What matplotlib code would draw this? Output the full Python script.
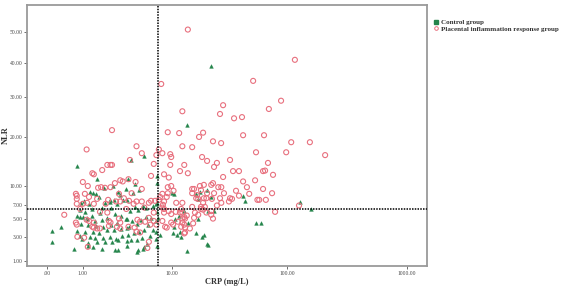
import numpy as np
import matplotlib
matplotlib.use("Agg")
import matplotlib.pyplot as plt
from matplotlib.lines import Line2D

# ---------------- data ----------------
x_ticks = [0, 1, 10, 100, 1000]
x_tick_labels = [".00", "1.00", "10.00", "100.00", "1000.00"]
y_ticks = [1, 3, 5, 7, 10, 20, 30, 40, 50]
y_tick_labels = ["1.00", "3.00", "5.00", "7.00", "10.00", "20.00", "30.00", "40.00", "50.00"]

crp_cutoff = 7.46
nlr_cutoff = 6.45

control_crp = [
    0.79, 1.62, 1.43, 2.0, 2.57, 2.93, 3.08, 3.58, 1.73, 2.37,
    0.93, 1.05, 1.25, 2.06, 2.85, 3.32, 2.44, 1.89, 1.39, 0.895,
    1.08, 1.78, 1.39, 0.895, 1.17, 1.53, 1.89, 2.18, 2.71, 3.16,
    3.58, 2.85, 2.44, 1.95, 1.58, 1.21, 0.93, 0.79, 1.08, 1.43,
    1.73, 2.18, 2.64, 3.16, 3.67, 3.24, 2.78, 2.37, 1.95, 1.53,
    1.3, 0.97, 0.895, 1.21, 1.62, 2.06, 2.5, 2.93, 3.67, 0.107,
    0.315, 0.107, 0.69, 1.21, 1.43, 1.89, 2.93, 3.67, 5.47, 3.76,
    4.24, 4.88, 7.3, 7.3, 10.0, 10.5, 3.67, 4.44, 4.77, 5.35,
    5.72, 6.69, 7.3, 7.3, 3.94, 3.67, 4.14, 3.85, 4.65, 5.11,
    5.72, 6.4, 7.14, 7.46, 5.98, 5.47, 4.88, 4.34, 3.76, 6.69,
    7.14, 7.79, 6.26, 5.22, 4.65, 4.04, 5.47, 4.77, 7.3, 5.85,
    10.5, 11.2, 11.9, 10.7, 11.7, 12.9, 16.5, 17.9, 20.7, 18.7,
    19.5, 16.5, 13.75, 22.4, 42.3, 43.9, 128, 158, 54.5, 60.1,
    21.1, 23.8, 13.75, 22.4, 14.0, 12.15, 20.7, 21.1, 17.2, 4.04,
    4.44, 2.71, 4.65, 5.35, 7.14, 0.79, 1.0, 1.17, 1.3, 1.58,
    2.64, 2.37, 7.14, 17.2, 10.3,
]
control_nlr = [
    13.7, 11.25, 8.83, 9.66, 10.0, 8.99, 8.5, 9.5, 8.2, 7.72,
    7.27, 7.57, 7.12, 7.27, 7.12, 7.72, 6.54, 6.54, 6.4, 6.25,
    5.98, 5.84, 5.44, 5.31, 5.05, 4.8, 4.92, 5.18, 5.7, 5.44,
    5.05, 4.55, 4.3, 4.07, 4.19, 4.3, 4.42, 3.61, 3.5, 3.5,
    3.4, 3.72, 3.72, 3.83, 3.95, 3.08, 2.78, 2.98, 2.87, 2.87,
    2.98, 2.78, 3.08, 2.39, 2.48, 2.48, 2.48, 2.68, 2.58, 3.61,
    4.07, 2.48, 1.86, 2.12, 2.03, 1.86, 1.78, 2.12, 15.7, 11.25,
    8.83, 9.33, 11.8, 10.5, 8.83, 8.67, 7.72, 6.68, 6.25, 6.83,
    6.54, 6.83, 7.27, 5.98, 6.1, 5.05, 4.8, 4.07, 4.42, 4.92,
    5.31, 5.18, 4.8, 5.18, 4.3, 3.72, 3.5, 3.4, 3.19, 3.72,
    3.5, 3.19, 3.08, 2.87, 2.68, 2.68, 2.03, 1.78, 2.12, 2.3,
    4.07, 3.19, 3.5, 5.05, 5.44, 6.1, 8.67, 8.99, 9.33, 2.98,
    3.19, 3.4, 1.70, 8.2, 8.35, 7.57, 7.42, 6.4, 4.55, 4.55,
    6.1, 6.1, 22.7, 39.0, 4.55, 2.98, 2.3, 2.2, 7.87, 14.9,
    10.3, 1.78, 1.65, 1.86, 2.78, 5.44, 5.31, 5.18, 8.99, 8.67,
    7.72, 7.42, 7.12, 5.05, 3.4,
]

placental_crp = [
    14.0, 8.0, 12.5, 2.5, 9.2, 11.7, 12.5, 1.15, 4.6, 5.2,
    7.6, 8.2, 7.2, 9.7, 9.9, 3.94, 6.8, 9.7, 2.2, 2.4,
    2.5, 13.0, 1.9, 1.4, 1.47, 11.9, 14.0, 6.4, 8.5, 3.8,
    3.1, 3.3, 2.7, 1.0, 1.2, 4.5, 1.68, 1.84, 2.06, 2.4,
    9.4, 9.9, 9.2, 5.2, 4.1, 0.75, 0.78, 0.78, 1.08, 1.25,
    1.63, 2.25, 3.0, 3.1, 8.2, 9.2, 7.8, 9.0, 10.4, 11.0,
    12.5, 1.0, 1.17, 1.47, 0.78, 2.1, 2.78, 4.3, 4.6, 5.2,
    6.1, 6.4, 7.0, 7.6, 8.5, 8.3, 3.4, 3.85, 8.2, 8.5,
    8.5, 9.4, 9.9, 0.4, 0.75, 0.78, 1.15, 1.25, 1.4, 1.47,
    1.63, 1.47, 1.78, 2.3, 2.4, 2.3, 3.0, 3.1, 2.85, 3.1,
    3.8, 4.4, 4.7, 5.0, 5.6, 6.1, 6.3, 6.8, 7.2, 8.2,
    8.7, 9.0, 9.9, 10.3, 11.4, 12.5, 13.2, 13.0, 13.2, 15.6,
    14.6, 4.6, 5.0, 5.9, 1.2, 0.8, 1.05, 6.1, 0.9, 1.78,
    2.2, 3.6, 5.5, 6.8, 10.9, 11.9, 15.3, 19.1, 17.6, 23.3,
    27.4, 28.5, 26.8, 35.4, 41.4, 42.3, 51.5, 63.7, 70.0, 88.7,
    116, 108, 155, 208, 98, 54.5, 32.7, 68.8, 25.2, 20.7,
    18.7, 23.8, 34.7, 39.0, 62.5, 65.0, 75.9, 28.5, 53.5, 62.5,
    74.5, 45.6, 47.7, 58.0, 66.0, 36.8, 39.0, 32.7, 27.5, 25.9,
    29.0, 26.8, 27.5, 23.3, 22.5, 23.8, 22.8, 20.7, 19.4, 17.9,
    18.3, 16.9, 17.3, 15.3, 15.9, 15.3, 16.6, 19.4, 19.1, 18.3,
    19.8, 19.1, 20.4, 18.3, 22.5, 23.3, 22.5, 32.0, 34.0, 56.0,
    79.0, 125.6, 12.2, 12.5, 13.0, 12.5, 12.2, 13.2, 13.0, 13.7,
    15.3, 16.2, 17.3, 15.9, 20.4, 25.2, 42.3,
]
placental_nlr = [
    51.0, 33.7, 26.2, 21.5, 21.0, 20.8, 17.8, 17.1, 17.8, 16.3,
    17.1, 16.3, 15.9, 16.1, 15.5, 14.9, 14.1, 13.9, 13.9, 13.9,
    13.9, 13.9, 12.9, 12.3, 12.1, 12.7, 12.3, 11.8, 12.1, 11.2,
    11.0, 10.8, 10.5, 10.7, 10.0, 10.7, 9.7, 9.8, 9.7, 9.8,
    11.5, 10.0, 9.8, 9.5, 8.8, 8.7, 8.4, 7.9, 8.7, 8.2,
    7.9, 7.75, 8.7, 7.5, 8.7, 8.8, 8.2, 8.2, 9.2, 7.3,
    7.3, 7.15, 7.3, 7.15, 7.15, 7.15, 7.5, 7.15, 7.5, 7.5,
    7.3, 7.6, 7.6, 7.75, 7.5, 7.0, 8.0, 7.6, 6.6, 6.4,
    5.9, 6.1, 5.7, 5.6, 4.6, 4.35, 4.95, 4.8, 4.1, 4.0,
    3.9, 4.6, 3.9, 4.8, 4.6, 4.2, 5.1, 4.6, 4.1, 3.9,
    4.1, 4.0, 4.95, 4.7, 4.7, 5.2, 4.35, 4.8, 4.35, 4.8,
    4.1, 4.0, 4.6, 4.35, 4.7, 5.1, 5.1, 4.35, 3.45, 4.5,
    3.9, 3.55, 3.45, 1.95, 2.05, 3.0, 2.9, 2.5, 6.4, 6.0,
    5.9, 6.4, 6.6, 5.9, 6.0, 5.9, 17.6, 20.9, 19.9, 18.9,
    18.5, 27.8, 25.5, 24.4, 24.7, 20.3, 34.6, 20.3, 26.8, 29.0,
    41.0, 18.7, 18.7, 15.9, 16.5, 16.5, 14.9, 14.3, 14.3, 14.7,
    15.5, 13.5, 12.7, 12.7, 12.7, 12.8, 12.0, 11.6, 11.0, 9.5,
    8.8, 9.8, 8.7, 7.75, 7.75, 9.2, 8.4, 8.0, 9.8, 9.8,
    8.8, 8.0, 7.3, 10.5, 10.2, 8.8, 7.9, 8.8, 10.2, 10.0,
    9.3, 8.5, 7.9, 9.5, 9.5, 8.8, 8.0, 8.0, 7.3, 6.7,
    6.7, 6.3, 5.9, 6.4, 5.6, 5.1, 6.1, 7.5, 7.9, 7.75,
    6.0, 6.9, 6.4, 5.9, 5.3, 4.6, 4.1, 4.0, 3.35, 5.5,
    6.7, 5.9, 5.6, 5.2, 8.0, 6.9, 10.8,
]

# ---------------- figure ----------------
W, H = 565, 287
fig = plt.figure(figsize=(W / 100, H / 100), dpi=100)
ax = fig.add_axes([27 / W, 1 - 266 / H, 400 / W, 261 / H])

P = 0.57
def fx(x):
    return np.log10(np.clip(np.asarray(x, dtype=float) + 1, 1e-9, None))
def ix(u):
    return np.power(10.0, u) - 1
def fy(y):
    return np.power(np.clip(np.asarray(y, dtype=float), 1e-9, None), P)
def iy(v):
    return np.power(np.clip(v, 1e-9, None), 1 / P)

ax.set_xscale("function", functions=(fx, ix))
ax.set_yscale("function", functions=(fy, iy))

green = "#23844a"
pink = "#e8707e"

ax.scatter(control_crp, control_nlr, marker="^", s=7, color=green,
           edgecolors=green, linewidths=0.3, zorder=3)
ax.scatter(placental_crp, placental_nlr, marker="o", s=13, facecolors="none",
           edgecolors=pink, linewidths=0.8, zorder=4)

ax.axvline(crp_cutoff, color="black", linestyle=(0, (1, 0.8)), linewidth=1.1, zorder=5)
ax.axhline(nlr_cutoff, color="black", linestyle=(0, (1, 0.8)), linewidth=1.1, zorder=5)

ax.set_xlim(-0.315, 1475)
ax.set_ylim(0.687, 59.8)

ax.set_xticks(x_ticks)
ax.set_xticklabels(x_tick_labels)
ax.set_yticks(y_ticks)
ax.set_yticklabels(y_tick_labels)
ax.minorticks_off()

for s in ax.spines.values():
    s.set_color("#9a9a9a")
    s.set_linewidth(1.3)

ax.tick_params(axis="both", length=2, width=0.6, color="#555555",
               labelsize=4, labelcolor="#444444", pad=1.5)
for lbl in ax.get_xticklabels() + ax.get_yticklabels():
    lbl.set_family("Liberation Serif")

ax.set_xlabel("CRP (mg/L)", fontsize=6, fontweight="bold", family="Liberation Serif",
              color="#333333")
ax.set_ylabel("NLR", fontsize=6, fontweight="bold", family="Liberation Serif",
              color="#333333")
ax.xaxis.set_label_coords(0.5, -16 / 261, transform=ax.transAxes)
ax.xaxis.label.set_va("center")
ax.yaxis.set_label_coords(-21 / 400, 0.5, transform=ax.transAxes)
ax.yaxis.label.set_va("center")

handles = [
    Line2D([], [], marker="s", linestyle="none", markersize=2.2, color=green),
    Line2D([], [], marker="o", linestyle="none", markersize=2.6, markerfacecolor="none",
           markeredgecolor=pink, markeredgewidth=0.7),
]
fig.legend(handles, ["Control group", "Placental inflammation response group"],
           loc="upper left", bbox_to_anchor=(430 / W, 1 - 16 / H), frameon=False,
           prop={"family": "Liberation Serif", "weight": "bold", "size": 5},
           labelspacing=0.05, handletextpad=0.3, handlelength=0.8, borderpad=0,
           labelcolor="#333333")

fig.savefig("out.png", dpi=100)
